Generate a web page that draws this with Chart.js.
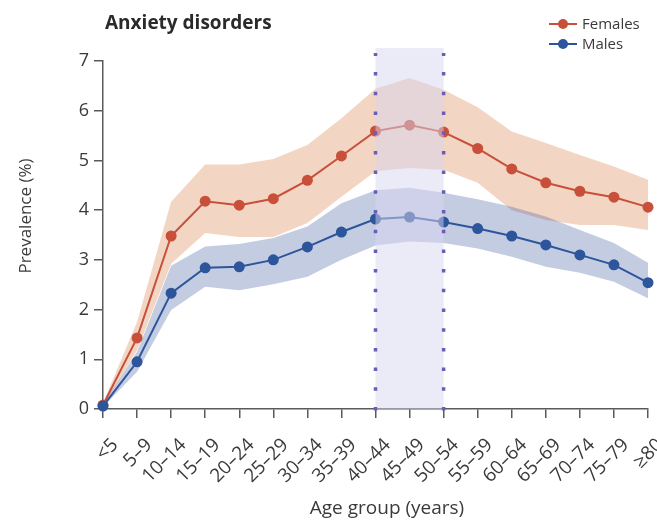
<!DOCTYPE html>
<html>
<head>
<meta charset="utf-8">
<script src="https://cdn.jsdelivr.net/npm/chart.js@4/dist/chart.umd.min.js"></script>
<style>
  html, body { margin: 0; padding: 0; background: #fff; overflow: hidden; }
  #wrap { position: relative; width: 657px; height: 523px; }
</style>
</head>
<body>
<div id="wrap"><canvas id="c" width="657" height="523"></canvas></div>
<script>
// Age groups on the x axis
const ageGroups = ['<5', '5–9', '10–14', '15–19', '20–24', '25–29', '30–34', '35–39',
  '40–44', '45–49', '50–54', '55–59', '60–64', '65–69', '70–74', '75–79', '≥80'];

// Prevalence (%) of anxiety disorders, with 95% uncertainty bounds
const females      = [0.08, 1.43, 3.48, 4.18, 4.10, 4.23, 4.60, 5.09, 5.59, 5.71, 5.57, 5.24, 4.83, 4.55, 4.38, 4.26, 4.06];
const femalesUpper = [0.12, 1.75, 4.17, 4.92, 4.92, 5.03, 5.31, 5.85, 6.44, 6.66, 6.42, 6.07, 5.58, 5.35, 5.11, 4.88, 4.61];
const femalesLower = [0.05, 1.18, 2.92, 3.54, 3.46, 3.46, 3.74, 4.27, 4.78, 4.85, 4.81, 4.55, 4.00, 3.80, 3.70, 3.70, 3.60];

const males      = [0.06, 0.95, 2.33, 2.84, 2.86, 3.00, 3.26, 3.56, 3.82, 3.86, 3.76, 3.63, 3.48, 3.30, 3.10, 2.90, 2.54];
const malesUpper = [0.09, 1.15, 2.88, 3.27, 3.32, 3.44, 3.67, 4.14, 4.40, 4.45, 4.35, 4.22, 4.07, 3.87, 3.60, 3.34, 2.94];
const malesLower = [0.04, 0.75, 1.99, 2.46, 2.39, 2.51, 2.66, 3.00, 3.29, 3.37, 3.34, 3.23, 3.06, 2.86, 2.74, 2.56, 2.23];

// y-axis ticks
const yTicks = [0, 1, 2, 3, 4, 5, 6, 7];

// Highlighted age span
const highlightStart = '40–44';
const highlightEnd = '50–54';
const highlightTop = 7.26;

const FONT = '"Open Sans", "Noto Sans", sans-serif';
const TEXT = '#3a3a3a';
const AXIS = '#5a5a5a';
const RED = '#c8503a';
const BLUE = '#2c559b';

// Shaded span with dotted edges, drawn over the series
const highlightPlugin = {
  id: 'highlight',
  afterDatasetsDraw(chart) {
    const { ctx, scales: { x, y } } = chart;
    const x0 = x.getPixelForValue(ageGroups.indexOf(highlightStart));
    const x1 = x.getPixelForValue(ageGroups.indexOf(highlightEnd));
    const yb = y.getPixelForValue(0);
    const yt = y.getPixelForValue(highlightTop);
    ctx.save();
    ctx.fillStyle = 'rgba(215, 213, 240, 0.5)';
    ctx.fillRect(x0, yt, x1 - x0, yb - yt);
    ctx.strokeStyle = '#6b5cb5';
    ctx.lineWidth = 3.5;
    ctx.setLineDash([3.5, 16.2]);
    [x0, x1].forEach(px => {
      ctx.beginPath();
      ctx.moveTo(px, yb + 1.5);
      ctx.lineTo(px, yt + 5);
      ctx.stroke();
    });
    ctx.restore();
  }
};

// Title, legend and axis titles
const decorPlugin = {
  id: 'decor',
  afterDraw(chart) {
    const { ctx } = chart;
    ctx.save();
    ctx.fillStyle = '#2a2a2a';
    ctx.font = 'bold 19px ' + FONT;
    ctx.textBaseline = 'alphabetic';
    ctx.textAlign = 'left';
    ctx.fillText('Anxiety disorders', 105, 29);

    // legend
    const items = chart.data.datasets.filter(d => d.legend);
    items.forEach((d, i) => {
      const yy = 24 + i * 20;
      ctx.strokeStyle = d.borderColor;
      ctx.lineWidth = 2;
      ctx.beginPath();
      ctx.moveTo(549, yy);
      ctx.lineTo(577, yy);
      ctx.stroke();
      ctx.fillStyle = d.borderColor;
      ctx.beginPath();
      ctx.arc(563, yy, 5, 0, Math.PI * 2);
      ctx.fill();
      ctx.fillStyle = TEXT;
      ctx.font = '15px ' + FONT;
      ctx.textBaseline = 'middle';
      ctx.fillText(d.label, 582, yy + 1);
    });

    // axis titles
    ctx.fillStyle = TEXT;
    ctx.font = '19px ' + FONT;
    ctx.textAlign = 'center';
    ctx.textBaseline = 'middle';
    ctx.fillText('Age group (years)', 387, 509);
    ctx.font = '17px ' + FONT;
    ctx.translate(26, 216);
    ctx.rotate(-Math.PI / 2);
    ctx.fillText('Prevalence (%)', 0, 0);
    ctx.restore();
  }
};

const band = (data, color, fill, order) => ({
  data, fill, order, backgroundColor: color, borderWidth: 0, pointRadius: 0,
  pointHoverRadius: 0, tension: 0, clip: false
});

const chart = new Chart(document.getElementById('c'), {
  type: 'line',
  data: {
    labels: ageGroups,
    datasets: [
      band(femalesUpper, 'rgba(226, 150, 105, 0.4)', false, 3),
      band(femalesLower, 'rgba(226, 150, 105, 0.4)', '-1', 3),
      band(malesUpper, 'rgba(60, 85, 160, 0.3)', false, 2),
      band(malesLower, 'rgba(60, 85, 160, 0.3)', '-1', 2),
      {
        label: 'Females', legend: true, data: females, order: 1, clip: false,
        borderColor: RED, backgroundColor: RED, borderWidth: 2,
        pointRadius: 5.5, pointBackgroundColor: RED, pointBorderWidth: 0, tension: 0, fill: false
      },
      {
        label: 'Males', legend: true, data: males, order: 0, clip: false,
        borderColor: BLUE, backgroundColor: BLUE, borderWidth: 2,
        pointRadius: 5.5, pointBackgroundColor: BLUE, pointBorderWidth: 0, tension: 0, fill: false
      }
    ]
  },
  options: {
    responsive: false,
    animation: false,
    devicePixelRatio: 1,
    layout: { padding: { top: 61, right: 9, bottom: 0, left: 0 } },
    plugins: {
      legend: { display: false },
      title: { display: false },
      tooltip: { enabled: false },
      filler: { propagate: false }
    },
    scales: {
      x: {
        type: 'category',
        offset: false,
        grid: { display: true, drawOnChartArea: false, drawTicks: true, tickLength: 9, color: AXIS, lineWidth: 1.5 },
        border: { display: true, color: AXIS, width: 1.5 },
        ticks: { autoSkip: false, maxRotation: 45, minRotation: 45, padding: 16, labelOffset: 12, color: TEXT, font: { family: FONT, size: 19 } },
        afterFit(s) { s.height = 114; s.paddingLeft = 0; s.paddingRight = 0; }
      },
      y: {
        min: 0, max: 7,
        afterBuildTicks(s) { s.ticks = yTicks.map(v => ({ value: v })); },
        grid: { display: true, drawOnChartArea: false, drawTicks: true, tickLength: 9, color: AXIS, lineWidth: 1.5 },
        border: { display: true, color: AXIS, width: 1.5 },
        ticks: { padding: 5, color: TEXT, font: { family: FONT, size: 18 } },
        afterFit(s) { s.width = 103; }
      }
    }
  },
  plugins: [highlightPlugin, decorPlugin]
});
</script>
</body>
</html>
